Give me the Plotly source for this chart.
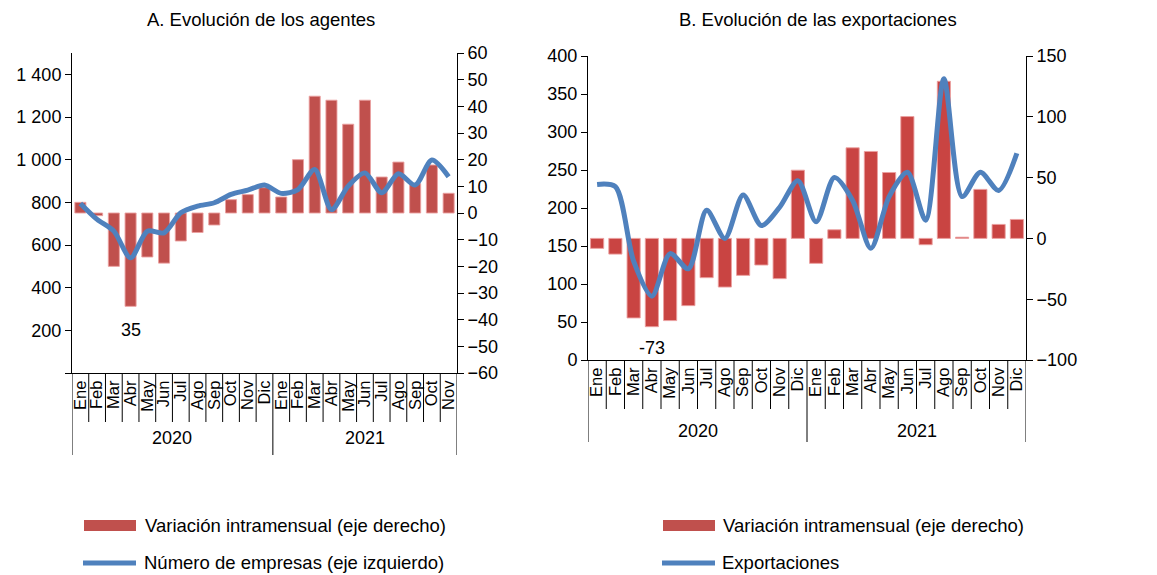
import plotly.graph_objects as go

# ---- Data ----
months_a = ["Ene", "Feb", "Mar", "Abr", "May", "Jun", "Jul", "Ago", "Sep", "Oct", "Nov", "Dic",
            "Ene", "Feb", "Mar", "Abr", "May", "Jun", "Jul", "Ago", "Sep", "Oct", "Nov"]
months_b = ["Ene", "Feb", "Mar", "Abr", "May", "Jun", "Jul", "Ago", "Sep", "Oct", "Nov", "Dic",
            "Ene", "Feb", "Mar", "Abr", "May", "Jun", "Jul", "Ago", "Sep", "Oct", "Nov", "Dic"]
years = ["2020", "2021"]

# A: variacion intramensual (eje derecho), numero de empresas (eje izquierdo)
var_a = [4, -1, -20, -35, -16.5, -18.8, -10.5, -7.3, -4.5, 5, 6.9, 9.5,
         6, 20, 43.8, 42.3, 33.3, 42.3, 13.5, 19.1, 11, 18, 7.4]
empresas = [795, 720, 665, 540, 665, 657, 751, 782, 798, 837, 857, 881,
            842, 860, 954, 766, 876, 938, 845, 934, 881, 998, 920]

# B: variacion intramensual (eje derecho), exportaciones (eje izquierdo)
var_b = [-8.2, -12.9, -65.4, -72.6, -67.6, -55.3, -32.3, -40, -30.4, -21.9, -33.1, 56.1,
         -20.5, 7.1, 74.5, 71.5, 54.2, 100.2, -5.2, 129.2, 1, 40.3, 11.5, 15.6]
exportaciones = [231, 228, 130, 84, 140, 120, 197, 160, 217, 177, 201, 236,
                 182, 240, 210, 147, 215, 247, 184, 370, 215, 247, 223, 272]

RED = "#C0504D"
RED_B = "#C94442"
BLUE = "#4F81BD"
FONT = "Liberation Sans"

# page body keeps its default 8px margin; figure runs to the bottom of the window
OFF = 8
W, H = 1157 - 2 * OFF, 575 - OFF


def px(x):
    return (x - OFF) / W


def py(y):
    return 1 - (y - OFF) / H


fig = go.Figure()

# Chart A
fig.add_trace(go.Bar(
    x=list(range(len(months_a))), y=var_a,
    marker=dict(color=RED, line=dict(color="rgba(235,160,160,0.9)", width=1)),
    width=0.66, xaxis="x", yaxis="y", showlegend=False
))
fig.add_trace(go.Scatter(
    x=list(range(len(months_a))), y=empresas, mode="lines",
    line=dict(color=BLUE, width=5, shape="spline", smoothing=0.8),
    xaxis="x", yaxis="y2", showlegend=False
))

# Chart B
fig.add_trace(go.Bar(
    x=list(range(len(months_b))), y=var_b,
    marker=dict(color=RED_B, line=dict(color="rgba(235,160,160,0.9)", width=1)),
    width=0.72, xaxis="x2", yaxis="y3", showlegend=False
))
fig.add_trace(go.Scatter(
    x=list(range(len(months_b))), y=exportaciones, mode="lines",
    line=dict(color=BLUE, width=5, shape="spline", smoothing=0.8),
    xaxis="x2", yaxis="y4", showlegend=False
))

dom_xa = [px(72), px(457)]
dom_ya = [py(373), py(53)]
dom_xb = [px(588), px(1026)]
dom_yb = [py(360), py(56)]

axis_common = dict(showline=True, linecolor="black", linewidth=1, showgrid=False,
                   zeroline=False, ticks="outside", ticklen=6, tickcolor="black",
                   automargin=False, tickfont=dict(size=18, color="black"))
month_axis = dict(showline=True, linecolor="black", showgrid=False, zeroline=False,
                  ticks="", tickangle=-90, automargin=False,
                  tickfont=dict(size=16.5, color="black"))

left_vals = list(range(0, 1401, 200))
left_text = [""] + [f"{v:,}".replace(",", " ") for v in left_vals[1:]]

fig.update_layout(
    width=W, height=H,
    margin=dict(l=0, r=0, t=0, b=0),
    paper_bgcolor="white", plot_bgcolor="white",
    font=dict(family=FONT, color="black"),
    xaxis=dict(domain=dom_xa, anchor="y", range=[-0.5, len(months_a) - 0.5],
               tickvals=list(range(len(months_a))), ticktext=months_a, **month_axis),
    yaxis=dict(domain=dom_ya, anchor="x", side="right", range=[-60, 60],
               tickvals=list(range(-60, 61, 10)), **axis_common),
    yaxis2=dict(domain=dom_ya, anchor="x", side="left", overlaying="y", range=[0, 1500],
                tickvals=left_vals, ticktext=left_text, **axis_common),
    xaxis2=dict(domain=dom_xb, anchor="y3", range=[-0.5, len(months_b) - 0.5],
                tickvals=list(range(len(months_b))), ticktext=months_b, **month_axis),
    yaxis3=dict(domain=dom_yb, anchor="x2", side="right", range=[-100, 150],
                tickvals=list(range(-100, 151, 50)), **axis_common),
    yaxis4=dict(domain=dom_yb, anchor="x2", side="left", overlaying="y3", range=[0, 400],
                tickvals=list(range(0, 401, 50)), **axis_common),
)

shapes = []
# month and year separators below the category axes
for xref, n, y_top, y_month, y_year in [("x", len(months_a), 373, 422, 455),
                                        ("x2", len(months_b), 360, 409, 442)]:
    for i in range(n + 1):
        is_year = i in (0, 12, n)
        shapes.append(dict(type="line", xref=xref, yref="paper",
                           x0=i - 0.5, x1=i - 0.5, y0=py(y_top),
                           y1=py(y_year if is_year else y_month),
                           line=dict(color="black", width=1)))

annotations = []


def label(text, x, y, xref="paper", yref="paper", xanchor="center", size=18):
    annotations.append(dict(xref=xref, yref=yref, x=x, y=y, text=text, showarrow=False,
                            xanchor=xanchor, yanchor="middle", font=dict(size=size)))


for xref, n, y_lab in [("x", len(months_a), 438), ("x2", len(months_b), 431)]:
    label(years[0], 5.5, py(y_lab), xref=xref)
    label(years[1], (12 + n - 1) / 2, py(y_lab), xref=xref)

# data labels
label("35", 3, 200, xref="x", yref="y2")
label("-73", 3, 16, xref="x2", yref="y4")

# titles
label("A. Evolución de los agentes", px(261), py(19), size=18.5)
label("B. Evolución de las exportaciones", px(818), py(19), size=18.5)

# legends
for x_sym, x_txt, line_label in [(84, 143, "Número de empresas (eje izquierdo)"),
                                 (663, 721, "Exportaciones")]:
    shapes.append(dict(type="rect", xref="paper", yref="paper",
                       x0=px(x_sym), x1=px(x_sym + 52), y0=py(531), y1=py(520),
                       fillcolor=RED, line=dict(width=0)))
    shapes.append(dict(type="line", xref="paper", yref="paper",
                       x0=px(x_sym - 1), x1=px(x_sym + 52), y0=py(563), y1=py(563),
                       line=dict(color=BLUE, width=5)))
    label("Variación intramensual (eje derecho)", px(x_txt), py(525), xanchor="left", size=18.5)
    label(line_label, px(x_txt - 1), py(562), xanchor="left", size=18.5)

fig.update_layout(shapes=shapes, annotations=annotations)

fig.write_html("out.html")
